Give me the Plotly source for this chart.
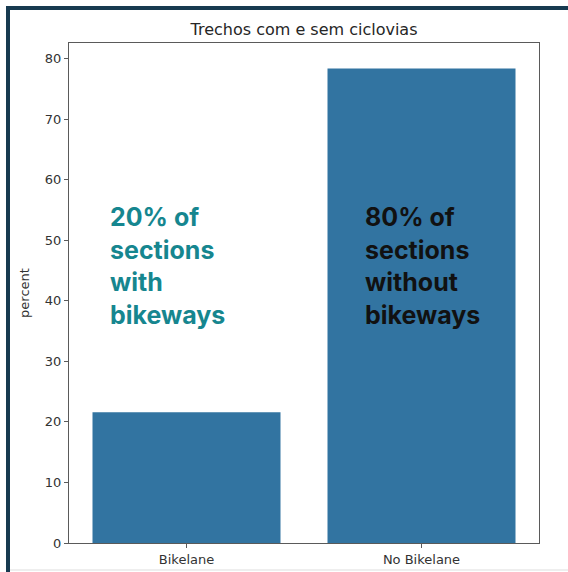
import plotly.graph_objects as go

categories = ["Bikelane", "No Bikelane"]
percent = [21.6, 78.4]
y_ticks = [0, 10, 20, 30, 40, 50, 60, 70, 80]
title_text = "Trechos com e sem ciclovias"
note_with = "20% of<br>sections<br>with<br>bikeways"
note_without = "80% of<br>sections<br>without<br>bikeways"

fig = go.Figure(go.Bar(
    x=categories, y=percent, marker=dict(color="#3274a1", line=dict(width=0)),
    width=0.8,
))

axis_common = dict(showline=True, linecolor="#5a5a5a", linewidth=1, mirror=True,
                   ticks="outside", ticklen=4, tickcolor="#5a5a5a", tickwidth=1,
                   showgrid=False, zeroline=False,
                   tickfont=dict(family="DejaVu Sans", size=13, color="#333333"))

fig.update_layout(
    width=568, height=572,
    margin=dict(l=69, r=29, t=43, b=29, autoexpand=False),
    paper_bgcolor="white", plot_bgcolor="white",
    title=dict(text=title_text, x=0.5, xref="paper", xanchor="center",
               y=1 - 29 / 572, yanchor="middle",
               font=dict(family="DejaVu Sans", size=16, color="#262626")),
    xaxis=dict(range=[-0.5, 1.5], automargin=False, **axis_common),
    yaxis=dict(range=[0, 82.6], tickvals=y_ticks, automargin=False,
               title=dict(text="percent", standoff=12,
                          font=dict(family="DejaVu Sans", size=13, color="#333333")),
               **axis_common),
    showlegend=False,
    bargap=0.2,
)

fig.add_annotation(text="<b>" + note_with + "</b>", xref="paper", x=(108 - 69) / 470,
                   xanchor="left", yref="y", y=45.8, yanchor="middle", showarrow=False,
                   align="left", font=dict(family="Inter", size=25, color="#16868f"))
fig.add_annotation(text="<b>" + note_without + "</b>", xref="paper", x=(363 - 69) / 470,
                   xanchor="left", yref="y", y=45.8, yanchor="middle", showarrow=False,
                   align="left", font=dict(family="Inter", size=25, color="#111111"))

# frame border (left and top)
border = "#173a50"
fig.add_shape(type="rect", xref="paper", yref="paper",
              x0=-63 / 470, x1=-59 / 470, y0=(543 - 572) / 500, y1=(543 - 6) / 500,
              fillcolor=border, line=dict(width=0), layer="above")
fig.add_shape(type="rect", xref="paper", yref="paper",
              x0=-63 / 470, x1=(568 - 69) / 470, y0=(543 - 10) / 500, y1=(543 - 6) / 500,
              fillcolor=border, line=dict(width=0), layer="above")
fig.add_shape(type="line", xref="paper", yref="paper",
              x0=-59 / 470, x1=(568 - 69) / 470, y0=(543 - 570) / 500, y1=(543 - 570) / 500,
              line=dict(color="#dddddd", width=1))

fig.write_html("out.html", config={"displayModeBar": False},
               post_script="document.body.style.margin='0';")
